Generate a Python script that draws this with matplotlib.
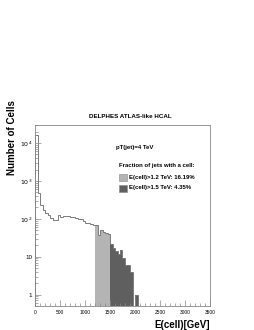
import numpy as np
import matplotlib
matplotlib.use("Agg")
import matplotlib.pyplot as plt
from matplotlib.ticker import FixedLocator, FuncFormatter, LogLocator, NullFormatter

# cell energy histogram, 50 GeV bins from 0 to 3500 GeV
bin_edges = np.arange(0, 3550, 50)
counts = [
    16000, 480, 230, 170, 140, 125, 105, 95, 95, 125,
    110, 118, 120, 118, 112, 112, 108, 100, 98, 88,
    80, 78, 74, 70, 70, 38, 50, 45, 42, 40,
    22, 17, 14, 12, 15, 9, 6, 6, 4, 0,
    1,
]
counts = np.array(counts + [0] * (len(bin_edges) - 1 - len(counts)), dtype=float)

cut_low = 1200   # E(cell) > 1.2 TeV
cut_high = 1500  # E(cell) > 1.5 TeV
frac_labels = ["E(cell)>1.2 TeV: 16.19%", "E(cell)>1.5 TeV: 4.35%"]
fill_colors = ["#b4b4b4", "#5f5f5f"]
line_color = "#7a7a7a"
ymin, ymax = 0.5, 3e4

plt.rcParams["font.family"] = ["Liberation Sans", "DejaVu Sans"]

fig = plt.figure(figsize=(2.55, 3.3), dpi=100)
ax = fig.add_axes([35 / 255, 1 - 306 / 330, 175 / 255, 181 / 330])
ax.set_yscale("log")

lo = bin_edges[:-1]
shown = np.maximum(counts, ymin)

# shaded regions above the two thresholds
mid = (lo >= cut_low) & (lo < cut_high)
ax.stairs(shown[mid], bin_edges[np.r_[mid, False] | np.r_[False, mid]],
          baseline=ymin, fill=True, color=fill_colors[0])
hi = lo >= cut_high
ax.stairs(shown[hi], bin_edges[np.r_[hi, False] | np.r_[False, hi]],
          baseline=ymin, fill=True, color=fill_colors[1])
ax.stairs(shown, bin_edges, baseline=ymin, color=line_color, lw=0.7)

ax.set_xlim(0, 3500)
ax.set_ylim(ymin, ymax)

ax.xaxis.set_major_locator(FixedLocator(np.arange(0, 3501, 500)))
ax.xaxis.set_minor_locator(FixedLocator(np.arange(0, 3501, 100)))
ax.yaxis.set_major_locator(LogLocator(base=10))
ax.yaxis.set_minor_locator(LogLocator(base=10, subs=np.arange(2, 10)))
ax.yaxis.set_minor_formatter(NullFormatter())


def ylab(v, pos):
    e = int(round(np.log10(v)))
    if e == 0:
        return "1"
    if e == 1:
        return "10"
    return r"$10^{%d}$" % e


ax.yaxis.set_major_formatter(FuncFormatter(ylab))
ax.tick_params(which="both", direction="in", color="#888888", width=0.5)
ax.tick_params(which="major", length=4, labelsize=4.5, pad=2)
ax.tick_params(which="minor", length=2)
ax.tick_params(axis="x", labelsize=3.5, pad=3)
for s in ax.spines.values():
    s.set_color("#888888")
    s.set_linewidth(0.6)

fig.text(130 / 255, 1 - 117 / 330, "DELPHES ATLAS-like HCAL", ha="center",
         va="center", fontsize=4.5, fontweight="bold")
fig.text(12 / 255, 1 - 100 / 330, "Number of Cells", rotation=90, ha="center",
         va="top", fontsize=7, fontweight="bold")
fig.text(210 / 255, 1 - 325 / 330, "E(cell)[GeV]", ha="right", va="center",
         fontsize=7, fontweight="bold")

fig.text(116 / 255, 1 - 148 / 330, "pT(jet)=4 TeV", ha="left", va="center",
         fontsize=4.3, fontweight="bold")
fig.text(119 / 255, 1 - 166 / 330, "Fraction of jets with a cell:", ha="left",
         va="center", fontsize=4.3, fontweight="bold")
for i, (lab, col) in enumerate(zip(frac_labels, fill_colors)):
    yc = 177 + 11 * i
    fig.patches.append(plt.Rectangle((119 / 255, 1 - (yc + 3.5) / 330), 8 / 255, 7 / 330,
                                     transform=fig.transFigure, facecolor=col,
                                     edgecolor="#888888", lw=0.4))
    fig.text(129 / 255, 1 - yc / 330, lab, ha="left", va="center",
             fontsize=4.3, fontweight="bold")

fig.savefig("out.png", dpi=100)
